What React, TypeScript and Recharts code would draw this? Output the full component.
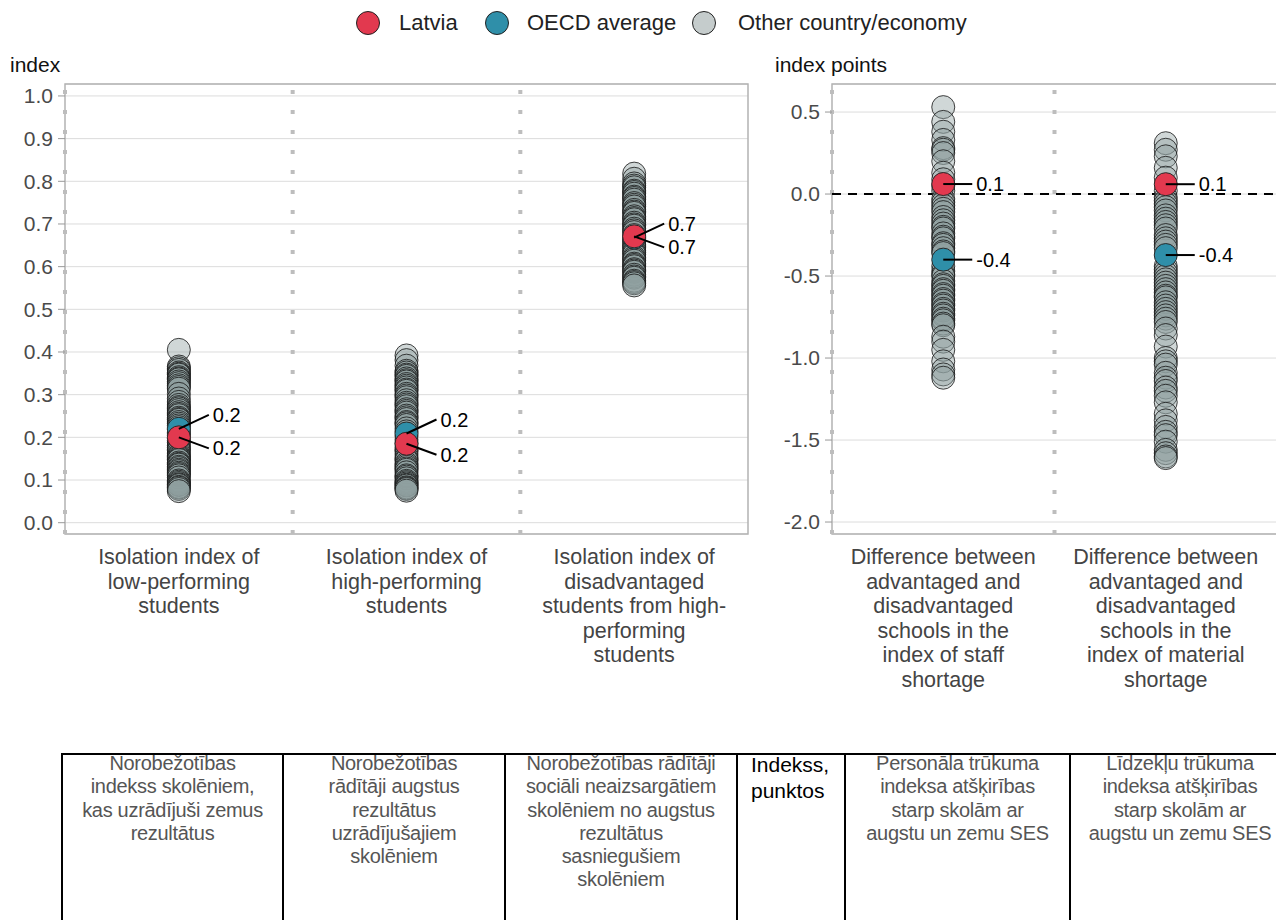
import React from 'react';
import { ScatterChart, Scatter, XAxis, YAxis, CartesianGrid, ReferenceLine, ReferenceArea } from 'recharts';

// x-axis category labels (one array of lines per category)
const LEFT_LABELS = [
  ['Isolation index of', 'low-performing', 'students'],
  ['Isolation index of', 'high-performing', 'students'],
  ['Isolation index of', 'disadvantaged', 'students from high-', 'performing', 'students'],
];
const RIGHT_LABELS = [
  ['Difference between', 'advantaged and', 'disadvantaged', 'schools in the', 'index of staff', 'shortage'],
  ['Difference between', 'advantaged and', 'disadvantaged', 'schools in the', 'index of material', 'shortage'],
];

const LEFT_TICKS = [0, 0.1, 0.2, 0.3, 0.4, 0.5, 0.6, 0.7, 0.8, 0.9, 1.0];
const RIGHT_TICKS = [-2.0, -1.5, -1.0, -0.5, 0, 0.5];

const LATVIA_LEFT = [0.2, 0.185, 0.671];
const OECD_LEFT = [0.22, 0.209, 0.668];
const LATVIA_RIGHT = [0.061, 0.06];
const OECD_RIGHT = [-0.4, -0.372];

const OTHER_LOW_PERF = [
  0.405, 0.366, 0.362, 0.358, 0.352, 0.349, 0.347, 0.341, 0.338, 0.336, 0.331, 0.327, 0.322, 0.318, 0.314, 0.302,
  0.291, 0.283, 0.276, 0.271, 0.268, 0.264, 0.259, 0.255, 0.252, 0.246, 0.243, 0.241, 0.236, 0.232, 0.228, 0.224,
  0.219, 0.212, 0.208, 0.204, 0.197, 0.192, 0.188, 0.181, 0.176, 0.172, 0.169, 0.163, 0.158, 0.155, 0.152, 0.149,
  0.147, 0.141, 0.138, 0.136, 0.131, 0.128, 0.124, 0.121, 0.117, 0.114, 0.111, 0.106, 0.099, 0.096, 0.093, 0.09,
  0.088, 0.084, 0.082, 0.079, 0.074,
];
const OTHER_HIGH_PERF = [
  0.392, 0.381, 0.368, 0.356, 0.352, 0.347, 0.344, 0.338, 0.334, 0.331, 0.325, 0.321, 0.317, 0.312, 0.309, 0.302,
  0.298, 0.294, 0.287, 0.281, 0.277, 0.273, 0.266, 0.262, 0.258, 0.251, 0.247, 0.243, 0.236, 0.233, 0.229, 0.221,
  0.214, 0.203, 0.194, 0.186, 0.177, 0.171, 0.168, 0.161, 0.154, 0.149, 0.146, 0.139, 0.135, 0.131, 0.127, 0.124,
  0.118, 0.111, 0.108, 0.104, 0.098, 0.095, 0.092, 0.089, 0.087, 0.083, 0.081, 0.079, 0.075,
];
const OTHER_DISADV = [
  0.818, 0.806, 0.795, 0.79, 0.786, 0.778, 0.775, 0.771, 0.764, 0.761, 0.757, 0.749, 0.745, 0.741, 0.733, 0.729,
  0.726, 0.718, 0.714, 0.711, 0.703, 0.699, 0.696, 0.689, 0.685, 0.681, 0.674, 0.666, 0.662, 0.658, 0.651, 0.648,
  0.644, 0.637, 0.633, 0.629, 0.622, 0.618, 0.614, 0.607, 0.604, 0.601, 0.594, 0.591, 0.588, 0.581, 0.577, 0.574,
  0.567, 0.564, 0.561, 0.556,
];
const OTHER_STAFF = [
  0.53, 0.44, 0.38, 0.33, 0.28, 0.27, 0.25, 0.2, 0.13, 0.09, 0.05, 0.02, -0.03, -0.05, -0.07, -0.09, -0.11, -0.14,
  -0.16, -0.18, -0.2, -0.21, -0.24, -0.26, -0.27, -0.3, -0.31, -0.33, -0.35, -0.36, -0.44, -0.47, -0.49, -0.5, -0.53,
  -0.55, -0.56, -0.58, -0.59, -0.61, -0.62, -0.64, -0.65, -0.67, -0.68, -0.7, -0.71, -0.73, -0.74, -0.76, -0.77,
  -0.79, -0.8, -0.87, -0.9, -0.95, -1.02, -1.07, -1.1, -1.12,
];
const OTHER_MATERIAL = [
  0.31, 0.27, 0.23, 0.16, 0.1, 0.02, -0.02, -0.04, -0.06, -0.08, -0.1, -0.13, -0.15, -0.17, -0.19, -0.21, -0.25,
  -0.27, -0.29, -0.31, -0.33, -0.44, -0.46, -0.48, -0.5, -0.52, -0.54, -0.56, -0.58, -0.6, -0.62, -0.63, -0.66, -0.68,
  -0.7, -0.72, -0.74, -0.76, -0.78, -0.82, -0.86, -0.93, -1.0, -1.02, -1.04, -1.09, -1.12, -1.14, -1.18, -1.2, -1.23,
  -1.27, -1.34, -1.38, -1.42, -1.45, -1.47, -1.51, -1.56, -1.58, -1.6, -1.61,
];

const TABLE_CELLS = [
  ['Norobežotības', 'indekss skolēniem,', 'kas uzrādījuši zemus', 'rezultātus'],
  ['Norobežotības', 'rādītāji augstus', 'rezultātus', 'uzrādījušajiem', 'skolēniem'],
  ['Norobežotības rādītāji', 'sociāli neaizsargātiem', 'skolēniem no augstus', 'rezultātus', 'sasniegušiem', 'skolēniem'],
  ['Indekss,', 'punktos'],
  ['Personāla trūkuma', 'indeksa atšķirības', 'starp skolām ar', 'augstu un zemu SES'],
  ['Līdzekļu trūkuma', 'indeksa atšķirības', 'starp skolām ar', 'augstu un zemu SES'],
];
const TABLE_COLS = [62, 283, 505, 737, 845, 1070, 1290];

const toPoints = (values: number[], idx: number) => values.map((v) => ({ x: idx + 0.5, y: v }));

const FONT = '"Liberation Sans", Arial, sans-serif';
const DOT_R = 11.5;
const RED = '#e2394f';
const TEAL = '#2f8fa9';

const OtherDot = (p: any) => (
  <circle cx={p.cx} cy={p.cy} r={DOT_R} fill="#90a0a0" fillOpacity={0.42} stroke="#151515" strokeOpacity={0.8} strokeWidth={1} />
);
const makeDot = (color: string) => (p: any) => (
  <circle cx={p.cx} cy={p.cy} r={DOT_R} fill={color} stroke="#2a2a2a" strokeWidth={1} />
);
const makeLabel = (dx: number, dy: number) => (p: any) => (
  <g>
    <line x1={p.cx} y1={p.cy} x2={p.cx + dx} y2={p.cy + dy} stroke="#000" strokeWidth={2} />
    <text x={p.cx + dx + 4} y={p.cy + dy} dy="0.35em" fontSize={20} fill="#000" fontFamily={FONT}>
      {p.payload.y.toFixed(1)}
    </text>
  </g>
);
const makeXTick = (labels: string[][]) => (props: any) => {
  const { x, y, payload } = props;
  const lines = labels[Math.floor(payload.value)] || [];
  return (
    <text x={x} y={y} textAnchor="middle" fill="#444" fontSize={21.5} fontFamily={FONT}>
      {lines.map((l, i) => (
        <tspan key={i} x={x} dy={i === 0 ? 30 : 24.6}>
          {l}
        </tspan>
      ))}
    </text>
  );
};

function Panel({ left, width, yWidth, right, domain, ticks, labels, others, latvia, oecd, oecdOff, latviaOff, zero }: any) {
  const n = labels.length;
  const seps = Array.from({ length: n }, (_, i) => i);
  return (
    <div style={{ position: 'absolute', left, top: 0 }}>
      <ScatterChart width={width} height={700} margin={{ top: 84, right, bottom: 0, left: 0 }}>
        <CartesianGrid vertical={false} stroke="#dcdcdc" />
        <XAxis
          type="number"
          dataKey="x"
          domain={[0, n]}
          ticks={seps.map((i) => i + 0.5)}
          interval={0}
          allowDataOverflow
          axisLine={false}
          tickLine={false}
          tickSize={0}
          tickMargin={0}
          height={166}
          tick={makeXTick(labels)}
        />
        <YAxis
          type="number"
          dataKey="y"
          domain={domain}
          ticks={ticks}
          interval={0}
          allowDataOverflow
          width={yWidth}
          axisLine={false}
          tickLine={{ stroke: '#999' }}
          tickSize={7}
          tickMargin={5}
          tick={{ fontSize: 21, fill: '#4a4a4a', fontFamily: FONT }}
          tickFormatter={(v: number) => v.toFixed(1)}
        />
        {seps.map((i) => (
          <ReferenceLine key={i} x={i} stroke="#bdbdbd" strokeWidth={4} strokeDasharray="4 16" />
        ))}
        {zero && <ReferenceLine y={0} stroke="#000" strokeWidth={2} strokeDasharray="9 7" />}
        <ReferenceArea x1={0} x2={n} y1={domain[0]} y2={domain[1]} fill="none" stroke="#b3b3b3" strokeWidth={1.5} />
        <Scatter data={others} shape={OtherDot} isAnimationActive={false} />
        <Scatter data={oecd} shape={makeDot(TEAL)} isAnimationActive={false} />
        <Scatter data={latvia} shape={makeDot(RED)} isAnimationActive={false} />
        <Scatter data={oecd} shape={makeLabel(oecdOff[0], oecdOff[1])} isAnimationActive={false} />
        <Scatter data={latvia} shape={makeLabel(latviaOff[0], latviaOff[1])} isAnimationActive={false} />
      </ScatterChart>
    </div>
  );
}

export default function App() {
  const leftOthers = [...toPoints(OTHER_LOW_PERF, 0), ...toPoints(OTHER_HIGH_PERF, 1), ...toPoints(OTHER_DISADV, 2)];
  const rightOthers = [...toPoints(OTHER_STAFF, 0), ...toPoints(OTHER_MATERIAL, 1)];
  const leftLatvia = LATVIA_LEFT.map((v, i) => ({ x: i + 0.5, y: v }));
  const leftOecd = OECD_LEFT.map((v, i) => ({ x: i + 0.5, y: v }));
  const rightLatvia = LATVIA_RIGHT.map((v, i) => ({ x: i + 0.5, y: v }));
  const rightOecd = OECD_RIGHT.map((v, i) => ({ x: i + 0.5, y: v }));

  const legend = [
    { label: 'Latvia', color: RED, cx: 368, tx: 399 },
    { label: 'OECD average', color: TEAL, cx: 497, tx: 527 },
    { label: 'Other country/economy', color: '#c5cccc', cx: 704, tx: 738 },
  ];

  return (
    <div style={{ position: 'absolute', left: 0, top: 0, width: 1276, height: 920, fontFamily: FONT, background: '#fff', overflow: 'hidden' }}>
      {legend.map((l) => (
        <React.Fragment key={l.label}>
          <div
            style={{
              position: 'absolute', left: l.cx - 12, top: 11, width: 22, height: 22, borderRadius: '50%',
              background: l.color, border: '1px solid #222',
            }}
          />
          <div style={{ position: 'absolute', left: l.tx, top: 9, fontSize: 22, color: '#222', lineHeight: '28px' }}>{l.label}</div>
        </React.Fragment>
      ))}
      <div style={{ position: 'absolute', left: 10, top: 52, fontSize: 21, color: '#111', lineHeight: '26px' }}>index</div>
      <div style={{ position: 'absolute', left: 775, top: 52, fontSize: 21, color: '#111', lineHeight: '26px' }}>index points</div>

      <Panel
        left={0}
        width={760}
        yWidth={65}
        right={12}
        domain={[-0.0265, 1.028]}
        ticks={LEFT_TICKS}
        labels={LEFT_LABELS}
        others={leftOthers}
        latvia={leftLatvia}
        oecd={leftOecd}
        oecdOff={[30, -14]}
        latviaOff={[30, 11]}
        zero={false}
      />
      <Panel
        left={760}
        width={517}
        yWidth={72}
        right={0}
        domain={[-2.073, 0.671]}
        ticks={RIGHT_TICKS}
        labels={RIGHT_LABELS}
        others={rightOthers}
        latvia={rightLatvia}
        oecd={rightOecd}
        oecdOff={[29, 0]}
        latviaOff={[29, 0]}
        zero
      />

      <div style={{ position: 'absolute', left: 62, top: 753, width: 1230, height: 2, background: '#000' }} />
      {TABLE_COLS.slice(0, 6).map((x) => (
        <div key={x} style={{ position: 'absolute', left: x - 1, top: 753, width: 2, height: 167, background: '#000' }} />
      ))}
      {TABLE_CELLS.map((lines, i) => {
        const isHead = i === 3;
        const x0 = TABLE_COLS[i];
        const x1 = i === 5 ? 1290 : TABLE_COLS[i + 1];
        return (
          <div
            key={i}
            style={{
              position: 'absolute',
              left: isHead ? x0 + 14 : x0,
              top: 752,
              width: isHead ? x1 - x0 - 14 : x1 - x0,
              textAlign: isHead ? 'left' : 'center',
              fontSize: isHead ? 21 : 20,
              lineHeight: isHead ? '26px' : '23.3px',
              color: isHead ? '#000' : '#555',
              whiteSpace: 'nowrap',
              letterSpacing: isHead ? 0 : -0.3,
            }}
          >
            {lines.map((l, j) => (
              <div key={j}>{l}</div>
            ))}
          </div>
        );
      })}
    </div>
  );
}
